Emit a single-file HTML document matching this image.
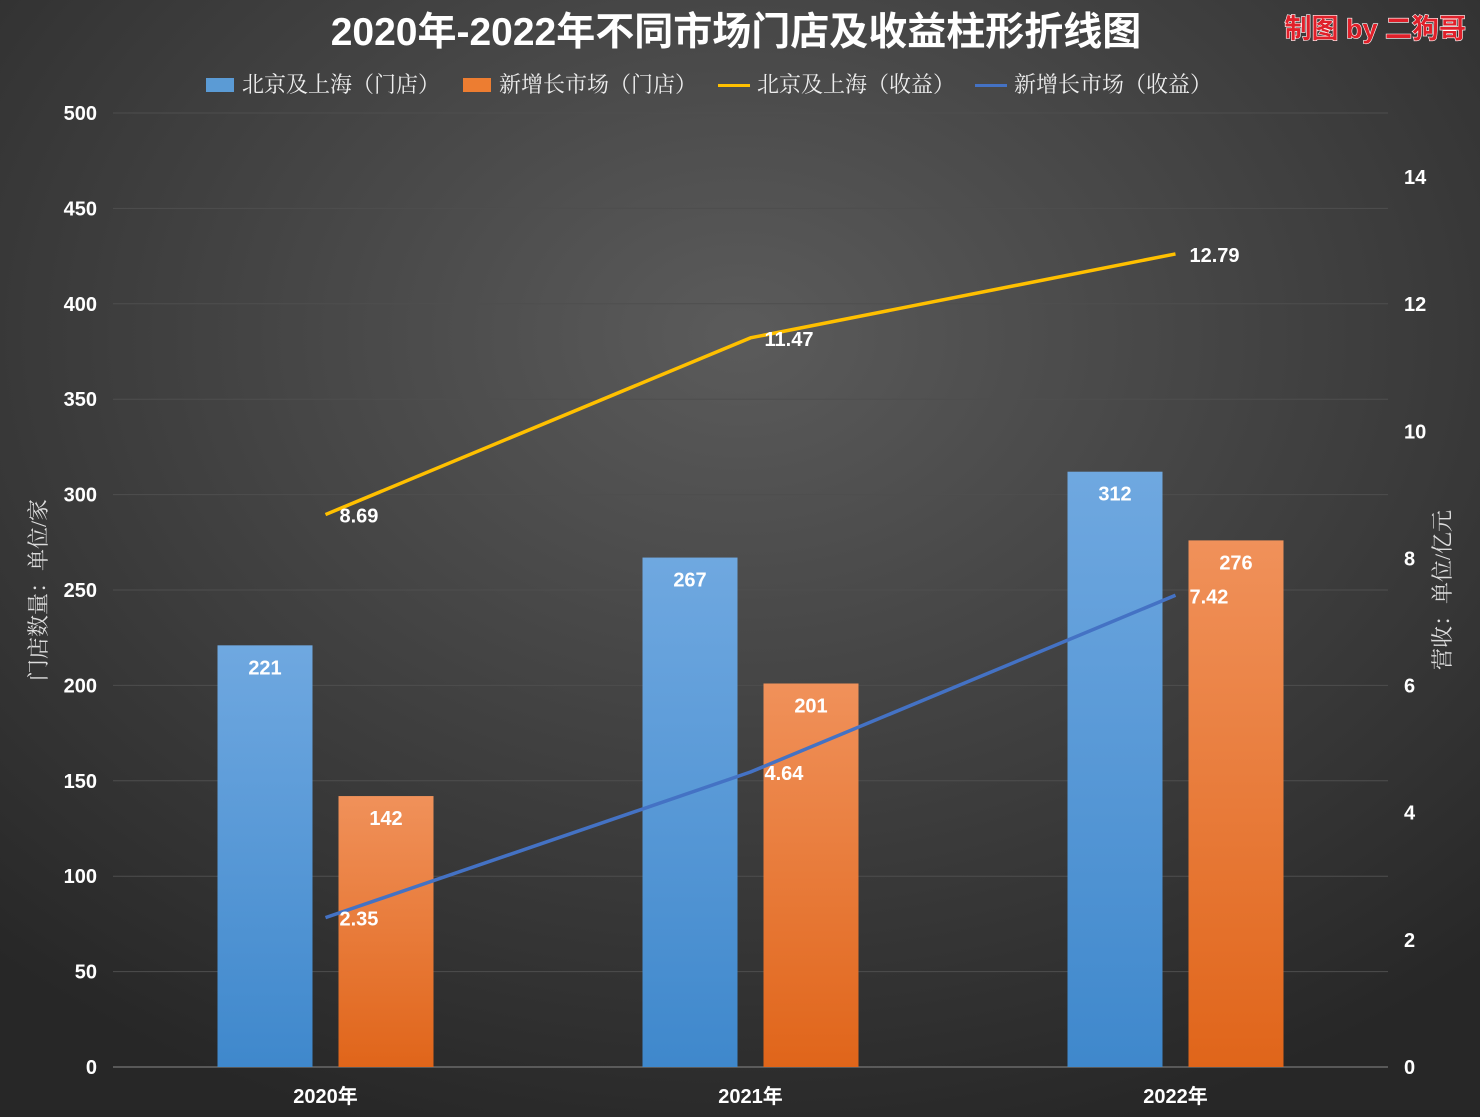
<!DOCTYPE html>
<html><head><meta charset="utf-8">
<style>
html,body{margin:0;padding:0;background:#333;}
svg{display:block;}
</style></head>
<body>
<svg id="chart" width="1480" height="1117" xmlns="http://www.w3.org/2000/svg" font-family="'Liberation Sans','Noto Sans CJK SC',sans-serif">
<defs>
<radialGradient id="bg" cx="0.5" cy="0.3" r="0.75">
<stop offset="0" stop-color="#5b5b5b"/><stop offset="1" stop-color="#272727"/>
</radialGradient>
<linearGradient id="gb" x1="0" y1="0" x2="0" y2="1"><stop offset="0" stop-color="#6fa8e0"/><stop offset="1" stop-color="#3f88cc"/></linearGradient>
<linearGradient id="go" x1="0" y1="0" x2="0" y2="1"><stop offset="0" stop-color="#f0915a"/><stop offset="1" stop-color="#e0651a"/></linearGradient>
</defs>
<rect width="1480" height="1117" fill="url(#bg)"/>
<text x="736" y="45" text-anchor="middle" font-size="39" font-weight="bold" fill="#fff">2020年-2022年不同市场门店及收益柱形折线图</text>
<text x="1466" y="38" text-anchor="end" font-size="27" font-weight="bold" fill="#e0202a" stroke="#fff" stroke-width="1.2" paint-order="stroke">制图 by 二狗哥</text>
<g id="legend" font-family="'Liberation Serif','Noto Serif CJK SC',serif" font-size="22" fill="#eee">
<g><rect x="206" y="78" width="28" height="14" fill="#5b9bd5"/><text x="242" y="92">北京及上海（门店）</text></g>
<g><rect x="463" y="78" width="28" height="14" fill="#ed7d31"/><text x="499" y="92">新增长市场（门店）</text></g>
<g><rect x="718" y="84" width="32" height="3" fill="#ffc000"/><text x="757" y="92">北京及上海（收益）</text></g>
<g><rect x="975" y="84" width="32" height="3" fill="#4472c4"/><text x="1014" y="92">新增长市场（收益）</text></g>
</g>
<g id="grid"></g><g id="bars"></g><g id="lines"></g><g id="axes"></g>
<text transform="translate(46,590) rotate(-90)" text-anchor="middle" font-family="'Liberation Serif','Noto Serif CJK SC',serif" font-size="22" fill="#ddd">门店数量：单位/家</text>
<text transform="translate(1450,590) rotate(-90)" text-anchor="middle" font-family="'Liberation Serif','Noto Serif CJK SC',serif" font-size="22" fill="#ddd">营收：单位/亿元</text>
</svg>
<script>
const categories = ['2020年','2021年','2022年'];
const bjStores = [221, 267, 312];
const newStores = [142, 201, 276];
const bjRevenue = [8.69, 11.47, 12.79];
const newRevenue = [2.35, 4.64, 7.42];
const leftTicks = [0,50,100,150,200,250,300,350,400,450,500];
const rightTicks = [0,2,4,6,8,10,12,14];

const NS='http://www.w3.org/2000/svg';
const X0=113, X1=1388, Y0=1067;
const yL=v=>Y0-v*(Y0-113)/500;
const yR=v=>Y0-v*(Y0-177)/14;
const band=(X1-X0)/categories.length;
const xC=i=>X0+band*(i+0.5);
function mk(tag,attrs,parent,txt){const e=document.createElementNS(NS,tag);for(const k in attrs)e.setAttribute(k,attrs[k]);if(txt!==undefined)e.textContent=txt;parent.appendChild(e);return e;}
const grid=document.getElementById('grid'),bars=document.getElementById('bars'),lines=document.getElementById('lines'),axes=document.getElementById('axes');
leftTicks.forEach(t=>{
  const l=mk('line',{x1:X0,x2:X1,y1:yL(t),y2:yL(t),stroke:t===0?'#888':'#4e4e4e','stroke-width':1},grid);
  
  
  const tx=mk('text',{x:97,y:yL(t)+7,'text-anchor':'end','font-size':20,'font-weight':'bold',fill:'#fff'},axes,t);
  
  
});
rightTicks.forEach(t=>{
  const tx=mk('text',{x:1404,y:yR(t)+7,'font-size':20,'font-weight':'bold',fill:'#fff'},axes,t);
  
  
});
const BW=95, GAP=26;
categories.forEach((c,i)=>{
  const tx=mk('text',{x:xC(i),y:1103,'text-anchor':'middle','font-size':20,'font-weight':'bold',fill:'#fff'},axes,c);
  
  
  const bx=xC(i)-GAP/2-BW, ox=xC(i)+GAP/2;
  const b=mk('rect',{x:bx,y:yL(bjStores[i]),width:BW,height:Y0-yL(bjStores[i]),fill:'url(#gb)'},bars);
  
  
  const o=mk('rect',{x:ox,y:yL(newStores[i]),width:BW,height:Y0-yL(newStores[i]),fill:'url(#go)'},bars);
  
  
  const bl=mk('text',{x:bx+BW/2,y:yL(bjStores[i])+29,'text-anchor':'middle','font-size':20,'font-weight':'bold',fill:'#fff'},bars,bjStores[i]);
  
  
  const ol=mk('text',{x:ox+BW/2,y:yL(newStores[i])+29,'text-anchor':'middle','font-size':20,'font-weight':'bold',fill:'#fff'},bars,newStores[i]);
  
  
});
function drawLine(vals,color,name){
  const p=mk('polyline',{points:vals.map((v,i)=>xC(i)+','+yR(v)).join(' '),fill:'none',stroke:color,'stroke-width':3.5,'stroke-linejoin':'round'},lines);
  
  
  vals.forEach((v,i)=>{
    const t=mk('text',{x:xC(i)+14,y:yR(v)+8,'font-size':20,'font-weight':'bold',fill:'#fff'},lines,v.toFixed(2));
    
    
  });
}
drawLine(bjRevenue,'#ffc000','line-bj-revenue');
drawLine(newRevenue,'#4472c4','line-new-revenue');
</script>
</body></html>
